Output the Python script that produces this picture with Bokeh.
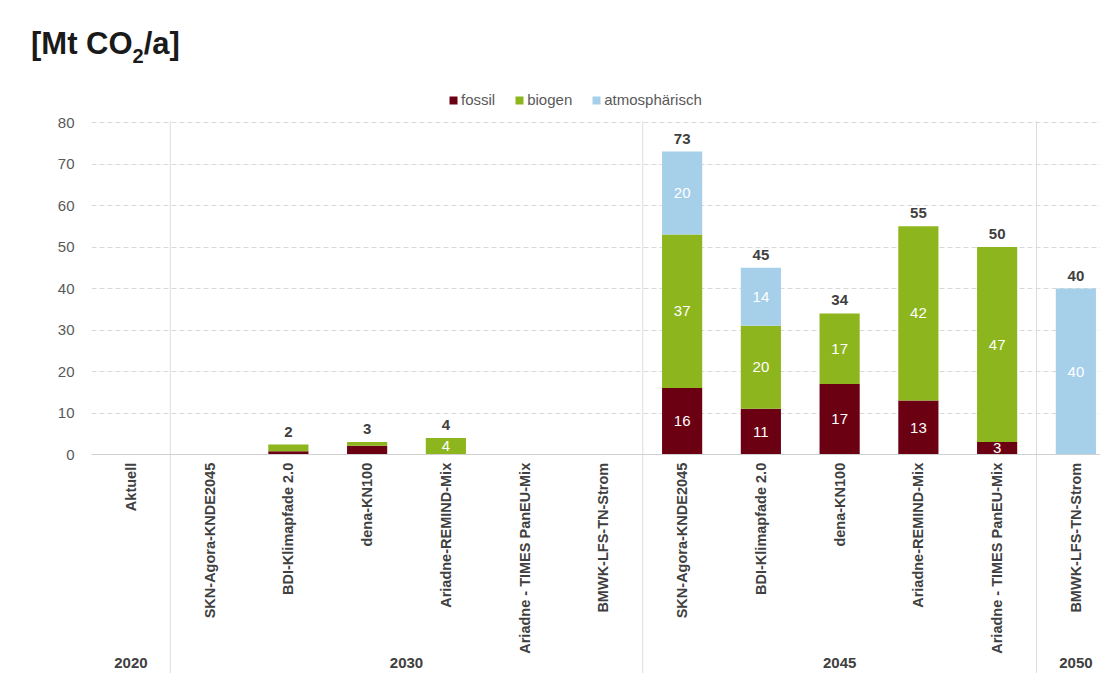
import math
from bokeh.plotting import figure
from bokeh.layouts import column
from bokeh.models import ColumnDataSource, Range1d, FixedTicker, Legend, LegendItem, Span, Div
from bokeh.core.properties import value
from bokeh.embed import file_html
from bokeh.resources import INLINE

# ---------------- data ----------------
scenarios = ["Aktuell",
             "SKN-Agora-KNDE2045", "BDI-Klimapfade 2.0", "dena-KN100",
             "Ariadne-REMIND-Mix", "Ariadne - TIMES PanEU-Mix", "BMWK-LFS-TN-Strom",
             "SKN-Agora-KNDE2045", "BDI-Klimapfade 2.0", "dena-KN100",
             "Ariadne-REMIND-Mix", "Ariadne - TIMES PanEU-Mix",
             "BMWK-LFS-TN-Strom"]
groups = ["2020", "2030", "2045", "2050"]
group_sizes = [1, 6, 5, 1]
fossil = [0, 0, 0.8, 2.1, 0, 0, 0, 16, 11, 17, 13, 3, 0]
biogen = [0, 0, 1.6, 0.9, 4, 0, 0, 37, 20, 17, 42, 47, 0]
atmos = [0, 0, 0, 0, 0, 0, 0, 20, 14, 0, 0, 0, 40]
series = ["fossil", "biogen", "atmos"]
series_labels = ["fossil", "biogen", "atmosphärisch"]
colors = ["#6B0012", "#8DB61E", "#A6CFEA"]
y_ticks = [0, 10, 20, 30, 40, 50, 60, 70, 80]

FONT = "Liberation Sans"
DARK = "#404040"

TITLE_H = 80
FIG_H = 593
PX = 4.15            # pixels per unit
ZERO = 374           # canvas y of value 0
Y_END = ZERO / PX
Y_START = -(FIG_H - ZERO) / PX

idx = list(range(len(scenarios)))
src = ColumnDataSource(dict(x=idx, fossil=fossil, biogen=biogen, atmos=atmos))

p = figure(width=1100, height=FIG_H, output_backend="svg", toolbar_location=None,
           x_range=Range1d(-0.5, -0.5 + (1100 - 91) / 78.75), y_range=Range1d(Y_START, Y_END),
           x_axis_location=None, min_border_left=91, min_border_right=0,
           min_border_top=0, min_border_bottom=0)
p.outline_line_color = None
p.xgrid.visible = False
p.yaxis.ticker = FixedTicker(ticks=y_ticks)
p.ygrid.ticker = FixedTicker(ticks=y_ticks)
p.ygrid.grid_line_color = "#d9d9d9"
p.ygrid.grid_line_dash = "5 3"
p.yaxis.axis_line_color = None
p.yaxis.major_tick_line_color = None
p.yaxis.minor_tick_line_color = None
p.yaxis.major_label_standoff = 11
p.yaxis.major_label_text_font = FONT
p.yaxis.major_label_text_font_size = "15px"
p.yaxis.major_label_text_color = "#595959"

# separators between year groups
bounds = []
acc = 0
for s in group_sizes[:-1]:
    acc += s
    bounds.append(acc - 0.5)
p.segment(x0=bounds, x1=bounds, y0=[y_ticks[-1] + 0.3] * len(bounds), y1=[Y_START] * len(bounds),
          line_color="#dcdcdc", line_width=1)

p.add_layout(Span(location=0, dimension="width", line_color="#d0d0d0", line_width=1.2))

rends = p.vbar_stack(series, x="x", width=0.51, color=colors, source=src, line_color=None)

# inner labels
lx, ly, lt = [], [], []
for i in idx:
    base = 0
    for vals in (fossil, biogen, atmos):
        v = vals[i]
        if v >= 3:
            lx.append(i); ly.append(base + v / 2); lt.append(f"{round(v)}")
        base += v
p.text(x=lx, y=ly, text=lt, text_align="center", text_baseline="middle",
       text_color="white", text_font=value(FONT), text_font_size="15px")

# totals
tx, ty, tt = [], [], []
for i in idx:
    t = fossil[i] + biogen[i] + atmos[i]
    if t > 0:
        tx.append(i); ty.append(t); tt.append(f"{round(t)}")
p.text(x=tx, y=ty, text=tt, text_align="center", text_baseline="bottom", y_offset=-8,
       text_color=DARK, text_font=value(FONT), text_font_size="15px", text_font_style="bold")

# category labels (vertical)
p.text(x=idx, y=[-2] * len(idx), text=scenarios, angle=math.pi / 2,
       text_align="right", text_baseline="middle",
       text_color=DARK, text_font=value(FONT), text_font_size="14.5px", text_font_style="bold")

# group labels
gx = []
acc = 0
for s in group_sizes:
    gx.append(acc + (s - 1) / 2)
    acc += s
p.text(x=gx, y=[Y_START + 2.6] * len(gx), text=groups, text_align="center", text_baseline="middle",
       text_color=DARK, text_font=value(FONT), text_font_size="15px", text_font_style="bold")

# legend
legend = Legend(items=[LegendItem(label=l, renderers=[r]) for l, r in zip(series_labels, rends)],
                orientation="horizontal", location=(357, FIG_H - 28),
                glyph_width=10, glyph_height=10, label_height=16, label_standoff=3,
                spacing=19, padding=0, margin=0, border_line_color=None,
                background_fill_alpha=0,
                label_text_font=FONT, label_text_font_size="15px", label_text_color="#595959")
p.add_layout(legend, "center")

# title
title = Div(text=('<div style="padding:26px 0 0 31px; font-family:\'Liberation Sans\'; '
                  'font-weight:bold; font-size:31px; line-height:36px; color:#1a1a1a; white-space:nowrap">'
                  '[Mt CO<span style="font-size:20px; position:relative; top:9px">2</span>/a]</div>'),
            width=400, height=TITLE_H, margin=0)

layout = column(title, p, spacing=0)
open("out.html", "w").write(file_html(layout, INLINE))
